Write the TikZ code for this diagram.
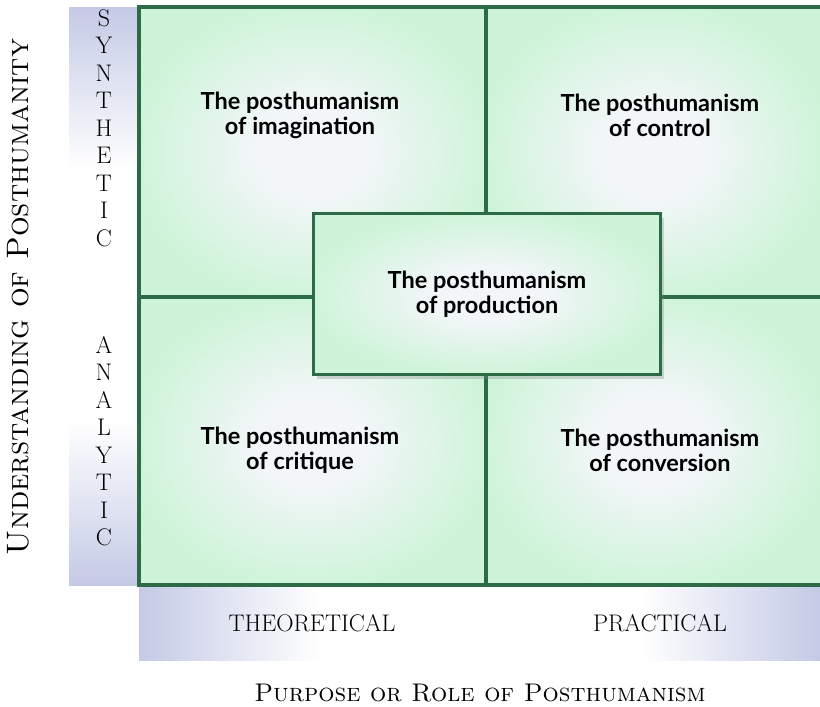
\documentclass[tikz,border=0pt]{standalone}
\usepackage{fontspec}
\newfontfamily\labelfont{Lato}
\usetikzlibrary{positioning,shadows}

\definecolor{gridgreen}{HTML}{2C6B45}
\definecolor{cellgreen}{HTML}{CDF4D8}
\definecolor{cellwhite}{HTML}{F2F6F8}
\definecolor{barblue}{HTML}{C4CAE6}

\pgfdeclareradialshading{cellglow}{\pgfpoint{0bp}{0bp}}{%
  color(0bp)=(cellwhite); color(8bp)=(cellwhite); color(26bp)=(cellgreen); color(50bp)=(cellgreen)}

\tikzset{
  gridline/.style={draw=gridgreen,line width=3.2pt},
  cellname/.style={font=\labelfont\bfseries\fontsize{23.5}{25}\selectfont,align=center},
  axisname/.style={font=\fontsize{24}{24}\selectfont\addfontfeature{LetterSpace=8}},
  axisletters/.style={align=center,font=\fontsize{24}{27.5}\selectfont},
  axistitle/.style={font=\fontsize{25.5}{25}\selectfont\scshape\addfontfeature{LetterSpace=5}},
}

\begin{document}
\begin{tikzpicture}[x=1pt,y=-1pt]
\useasboundingbox (0,0) rectangle (820,707);

% axis bars
\fill[white] (69,7) rectangle (137,585);
\shade[top color=barblue,bottom color=white] (69,7) rectangle (137,170);
\shade[top color=white,bottom color=barblue] (69,420) rectangle (137,585);
\fill[white] (139,587) rectangle (820,660);
\shade[left color=barblue,right color=white] (139,587) rectangle (320,660);
\shade[left color=white,right color=barblue] (640,587) rectangle (820,660);

% quadrants
\shade[shading=cellglow] (139,7) rectangle (486,297);
\shade[shading=cellglow] (486,7) rectangle (820,297);
\shade[shading=cellglow] (139,297) rectangle (486,585);
\shade[shading=cellglow] (486,297) rectangle (820,585);
\draw[gridline] (822,7) -- (139,7) -- (139,585) -- (822,585);
\draw[gridline] (486,7) -- (486,585);
\draw[gridline] (139,297) -- (822,297);

\node[cellname] (imagination) at (300,115) {The posthumanism\\of imagination};
\node[cellname] (control) at (660,115) {The posthumanism\\of control};
\node[cellname] (critique) at (300,450) {The posthumanism\\of critique};
\node[cellname] (conversion) at (660,450) {The posthumanism\\of conversion};

% middle box over the cross
\node[cellname,draw=gridgreen,line width=3.2pt,shading=cellglow,
      minimum width=347pt,minimum height=161pt,
      drop shadow={opacity=0.3,shadow xshift=3pt,shadow yshift=-4pt}]
  (production) at (487,294) {The posthumanism\\of production};

% axis labels
\node[axisletters] (synthetic) at (104,128) {S\\Y\\N\\T\\H\\E\\T\\I\\C};
\node[axisletters] (analytic) at (104,441) {A\\N\\A\\L\\Y\\T\\I\\C};
\node[axisname] (theoretical) at (312,623) {THEORETICAL};
\node[axisname] (practical) at (660,623) {PRACTICAL};
\node[axistitle] (purpose) at (480,693) {Purpose or Role of Posthumanism};
\node[axistitle,font=\fontsize{31}{31}\selectfont\scshape\addfontfeature{LetterSpace=9},
      rotate=90] (understanding) at (18,297) {Understanding of Posthumanity};
\end{tikzpicture}
\end{document}
